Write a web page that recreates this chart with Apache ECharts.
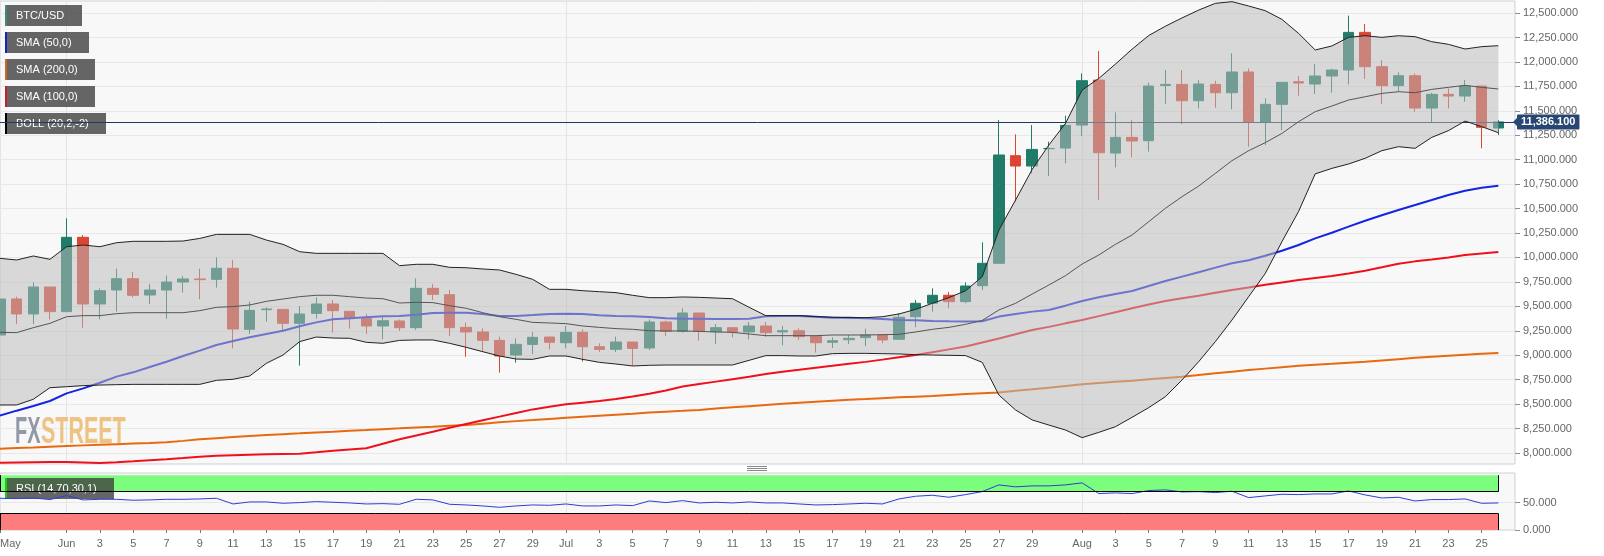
<!DOCTYPE html>
<html>
<head>
<meta charset="utf-8">
<style>html,body{margin:0;padding:0;background:#fff}#main{width:1604px;height:556px}</style>
<script src="https://cdn.jsdelivr.net/npm/echarts@6/dist/echarts.min.js"></script>
</head>
<body>
<div id="main"></div>
<script>
var dayLabels = ['May','','','','Jun','','3','','5','','7','','9','','11','','13','','15','','17','','19','','21','','23','','25','','27','','29','','Jul','','3','','5','','7','','9','','11','','13','','15','','17','','19','','21','','23','','25','','27','','29','','','Aug','','3','','5','','7','','9','','11','','13','','15','','17','','19','','21','','23','','25','',''];
var priceTicks = [8000,8250,8500,8750,9000,9250,9500,9750,10000,10250,10500,10750,11000,11250,11500,11750,12000,12250,12500];
var rsiTicks = [0,50];
var lastPrice = 11386.1;

// open, close, low, high
var candles = [
[9207,9575,9122,9616],[9575,9422,9319,9599],[9422,9698,9319,9745],[9698,9446,9367,9698],[9446,10206,9446,10400],
[10206,9524,9282,10230],[9524,9660,9367,9684],[9667,9783,9446,9885],[9783,9613,9592,9851],[9616,9667,9524,9728],
[9667,9749,9374,9814],[9749,9780,9640,9810],[9780,9773,9572,9885],[9776,9889,9691,10001],[9889,9268,9070,9974],
[9265,9459,9217,9548],[9466,9473,9343,9490],[9469,9326,9241,9469],[9326,9422,8893,9503],[9428,9524,9374,9592],
[9524,9456,9231,9565],[9449,9374,9272,9449],[9374,9299,9217,9422],[9299,9353,9163,9394],[9350,9282,9250,9365],
[9282,9684,9258,9786],[9684,9623,9565,9728],[9619,9282,9197,9667],[9285,9238,8985,9333],[9238,9152,9033,9275],
[9152,8992,8822,9190],[9002,9111,8924,9173],[9111,9183,9013,9238],[9186,9132,9060,9190],[9128,9234,9070,9299],
[9234,9087,8934,9265],[9087,9060,9033,9122],[9060,9135,9033,9190],[9135,9070,8890,9135],[9074,9340,9053,9367],
[9340,9244,9197,9353],[9244,9432,9231,9480],[9432,9244,9149,9432],[9241,9282,9115,9319],[9282,9238,9183,9282],
[9238,9299,9163,9340],[9299,9231,9190,9340],[9238,9251,9101,9299],[9251,9190,9156,9275],[9193,9128,9026,9207],
[9132,9149,9074,9183],[9159,9173,9115,9207],[9180,9207,9094,9272],[9207,9156,9122,9217],[9163,9388,9156,9428],
[9394,9531,9285,9565],[9531,9613,9446,9684],[9613,9548,9480,9647],[9548,9708,9531,9745],[9711,9940,9667,10155],
[9940,11048,9940,11406],[11041,10935,10570,11259],[10935,11105,10860,11354],[11112,11115,10833,11184],[11119,11351,10962,11450],
[11354,11808,11242,11883],[11814,11071,10587,12111],[11068,11228,10921,11484],[11228,11191,11024,11405],[11194,11753,11082,11787],
[11760,11770,11572,11917],[11770,11603,11364,11917],[11603,11774,11525,11814],[11770,11685,11531,11808],[11685,11897,11515,12088],
[11897,11382,11133,11934],[11382,11566,11150,11627],[11566,11791,11303,11791],[11798,11784,11655,11856],[11774,11856,11672,11978],
[11856,11917,11685,11930],[11917,12302,11771,12473],[12302,11951,11825,12388],[11951,11757,11569,12019],[11757,11859,11695,11893],
[11859,11528,11491,11883],[11528,11668,11378,11685],[11668,11651,11525,11729],[11651,11753,11593,11815],[11753,11331,11116,11753],
[11324,11386.1,11252,11406]
];

var sma50 = [8382,8433,8481,8532,8610,8661,8719,8781,8825,8880,8934,8992,9047,9105,9146,9183,9217,9251,9296,9336,9367,9377,9388,9398,9401,9415,9432,9435,9435,9422,9401,9401,9411,9422,9425,9422,9408,9401,9398,9391,9377,9374,9374,9370,9370,9374,9398,9401,9401,9394,9384,9384,9377,9370,9360,9357,9350,9347,9345,9348,9395,9422,9446,9463,9507,9555,9592,9626,9657,9708,9759,9804,9848,9896,9940,9972,10018,10069,10127,10195,10253,10315,10376,10431,10485,10536,10587,10639,10683,10714,10734];
var sma100 = [7901,7903,7905,7907,7908,7903,7898,7906,7915,7925,7935,7948,7962,7972,7978,7983,7987,7990,7993,8008,8024,8036,8048,8094,8140,8180,8218,8258,8297,8335,8372,8410,8446,8472,8498,8515,8532,8553,8578,8605,8640,8680,8705,8730,8755,8780,8807,8830,8851,8873,8892,8912,8932,8955,8980,9002,9030,9060,9090,9130,9172,9215,9258,9290,9326,9360,9400,9440,9480,9518,9555,9583,9609,9638,9667,9692,9720,9745,9769,9790,9811,9835,9865,9900,9936,9960,9978,10000,10024,10041,10056];
var sma200 = [8044,8050,8056,8064,8072,8078,8084,8090,8096,8102,8110,8124,8140,8152,8164,8174,8184,8193,8201,8210,8218,8227,8235,8244,8252,8261,8269,8278,8286,8300,8314,8326,8337,8349,8361,8372,8382,8392,8402,8413,8423,8431,8440,8454,8467,8479,8491,8503,8515,8525,8535,8544,8552,8561,8569,8576,8583,8593,8603,8612,8620,8636,8651,8668,8685,8702,8715,8728,8740,8754,8768,8781,8798,8815,8832,8848,8863,8878,8892,8902,8912,8923,8934,8947,8960,8973,8985,8995,9005,9014,9023];
var bollUpper = [9991,9974,10015,9981,10110,10127,10110,10151,10165,10165,10165,10168,10195,10236,10236,10236,10178,10134,10059,10042,10042,10042,10042,10042,9916,9930,9930,9899,9895,9882,9872,9827,9776,9674,9674,9660,9650,9640,9613,9589,9589,9596,9592,9585,9578,9490,9405,9405,9405,9394,9388,9384,9384,9394,9422,9469,9531,9589,9660,9803,10280,10587,10901,11150,11371,11712,11831,11978,12130,12270,12365,12450,12530,12599,12616,12572,12524,12435,12292,12122,12163,12251,12268,12251,12268,12258,12207,12180,12132,12156,12166];
var bollMiddle = [9234,9231,9282,9326,9394,9405,9405,9425,9435,9435,9435,9435,9456,9490,9497,9514,9551,9575,9599,9613,9613,9599,9585,9578,9534,9541,9538,9507,9480,9435,9394,9367,9336,9330,9323,9299,9285,9272,9265,9251,9248,9248,9244,9238,9234,9217,9200,9200,9200,9200,9207,9207,9207,9210,9214,9238,9265,9285,9316,9356,9463,9531,9626,9718,9814,9933,10025,10134,10230,10366,10502,10622,10730,10860,10990,11092,11174,11269,11389,11491,11549,11610,11644,11678,11695,11685,11719,11740,11760,11740,11723];
var bollLower = [8491,8491,8549,8668,8678,8689,8695,8699,8702,8702,8702,8702,8702,8743,8754,8788,8917,9002,9139,9186,9176,9173,9132,9122,9152,9156,9156,9122,9081,9036,8992,8961,8958,8992,8992,8958,8927,8910,8890,8897,8900,8900,8900,8900,8900,8948,8996,8996,8992,8992,9016,9019,9019,9016,9013,9006,9002,8999,8996,8927,8593,8440,8338,8286,8235,8157,8211,8269,8365,8464,8576,8747,8934,9139,9360,9598,9837,10161,10470,10855,10911,10956,11014,11092,11133,11116,11228,11297,11395,11338,11276];
var rsi = [57.9,57.3,58.5,55.5,62.8,54.9,56,56,54.3,54.9,56,56,56.7,57.9,47.5,51.2,51.2,48.8,50,51.8,50.6,49.4,47.5,48.1,46.9,56.1,54.9,46.9,45.7,43.9,41.4,43.9,45.7,45.1,47.5,43.9,43.9,45.7,44.5,53,50,53.6,49.4,50.6,49.4,51.2,49.4,49.4,47.5,45.7,46.3,47.5,48.8,47.5,56.7,61.6,63.4,59.8,64.6,70.1,82.3,78.7,80.5,80.5,82.3,86,66.5,67.7,66.5,72,73.2,69.5,70,68.3,70.7,59.1,62.2,65.2,64.6,65.8,65.8,71.3,64,58.5,59.7,53,55.5,55.5,56.7,48.7,49.4];

var font = '"Liberation Sans", Arial, sans-serif';
var gridColor = '#e8e8ea';
var frameColor = '#ccd0d8';
var keepLabeled = function (index, value) { return value !== ''; };
var monthStart = function (index, value) { return value === 'Jun' || value === 'Jul' || value === 'Aug'; };

function money(v) {
    return v.toLocaleString('en-US', { minimumFractionDigits: 3, maximumFractionDigits: 3 });
}

var chart = echarts.init(document.getElementById('main'));

function lineSeries(name, data, color, z) {
    return {
        name: name, type: 'line', data: data, z: z, showSymbol: false, silent: true,
        lineStyle: { color: color, width: 2 }
    };
}

chart.setOption({
    animation: false,
    backgroundColor: '#fff',
    textStyle: { fontFamily: font },
    grid: [
        { left: 0, width: 1515, top: 1, height: 463, outerBoundsMode: 'none', show: true, backgroundColor: '#f8f8f8', borderColor: frameColor, borderWidth: 1 },
        { left: 0, width: 1515, top: 473, height: 57, outerBoundsMode: 'none', show: true, backgroundColor: '#f8f8f8', borderColor: frameColor, borderWidth: 1 }
    ],
    xAxis: [
        {
            type: 'category', gridIndex: 0, data: dayLabels, boundaryGap: false,
            axisLine: { show: false }, axisTick: { show: false }, axisLabel: { show: false },
            splitLine: { show: true, interval: monthStart, lineStyle: { color: '#e4e4e6' } }
        },
        {
            type: 'category', gridIndex: 1, data: dayLabels, boundaryGap: false,
            axisLine: { show: false },
            axisTick: { show: true, interval: keepLabeled, length: 3, lineStyle: { color: '#777' } },
            axisLabel: { interval: keepLabeled, color: '#666', fontSize: 11, margin: 8, alignMinLabel: 'left' },
            splitLine: { show: true, interval: monthStart, lineStyle: { color: '#e4e4e6' } }
        }
    ],
    yAxis: [
        {
            type: 'value', gridIndex: 0, position: 'right', min: 7887.5, max: 12623, scale: true,
            axisLine: { show: false },
            axisTick: { show: true, length: 5, lineStyle: { color: '#8a8f99' }, customValues: priceTicks },
            axisLabel: { color: '#666', fontSize: 11, margin: 8, formatter: money, customValues: priceTicks },
            splitLine: { show: true, lineStyle: { color: gridColor } }
        },
        {
            type: 'value', gridIndex: 1, position: 'right', min: 0, max: 104,
            axisLine: { show: false },
            axisTick: { show: true, length: 5, lineStyle: { color: '#8a8f99' }, customValues: rsiTicks },
            axisLabel: { color: '#666', fontSize: 11, margin: 8, formatter: money, customValues: rsiTicks },
            splitLine: { show: true, lineStyle: { color: gridColor } }
        }
    ],
    series: [
        {
            name: 'BTC/USD', type: 'candlestick', data: candles, barWidth: 11, z: 2, silent: true,
            itemStyle: { color: '#207c68', color0: '#dc4433', borderColor: '#207c68', borderColor0: '#dc4433', borderWidth: 1 },
            markLine: {
                silent: true, symbol: 'none', z: 4, animation: false,
                lineStyle: { color: '#24375f', type: 'solid', width: 1 },
                label: {
                    show: true, position: 'end', distance: 2, formatter: money(lastPrice),
                    backgroundColor: '#274672', color: '#fff', fontWeight: 'bold', fontSize: 11, fontFamily: font,
                    padding: [2, 4], borderRadius: 1
                },
                data: [{ yAxis: lastPrice }]
            }
        },
        lineSeries('SMA (200,0)', sma200, '#e8690f', 3),
        lineSeries('SMA (100,0)', sma100, '#f0101a', 3),
        lineSeries('SMA (50,0)', sma50, '#1424e0', 3),
        {
            name: 'BOLL lower', type: 'line', data: bollLower, stack: 'boll', z: 7, showSymbol: false, silent: true,
            lineStyle: { color: '#222', width: 1 }
        },
        {
            name: 'BOLL band', type: 'line', data: bollUpper.map(function (v, i) { return v - bollLower[i]; }), stack: 'boll', z: 6,
            showSymbol: false, silent: true,
            lineStyle: { color: '#222', width: 1 },
            areaStyle: { color: 'rgba(187,187,187,0.53)', opacity: 1 }
        },
        {
            name: 'BOLL middle', type: 'line', data: bollMiddle, z: 7, showSymbol: false, silent: true,
            lineStyle: { color: '#555', width: 1 }
        },
        {
            name: 'RSI (14,70,30,1)', type: 'line', data: rsi, xAxisIndex: 1, yAxisIndex: 1, z: 3, showSymbol: false, silent: true,
            lineStyle: { color: '#2b3fd6', width: 1 },
            markArea: {
                silent: true, z: 1,
                data: [
                    [{ coord: [0, 70], itemStyle: { color: '#7dfd7d' } }, { coord: [90, 100] }],
                    [{ coord: [0, 0], itemStyle: { color: '#fd7d7d' } }, { coord: [90, 30] }]
                ]
            },
            markLine: {
                silent: true, symbol: 'none', z: 5, animation: false,
                lineStyle: { color: '#000', type: 'solid', width: 1 },
                label: { show: false },
                data: [
                    [{ coord: [0, 70] }, { coord: [90, 70] }],
                    [{ coord: [90, 70] }, { coord: [90, 100] }],
                    [{ coord: [0, 70] }, { coord: [0, 100] }],
                    [{ coord: [0, 30] }, { coord: [90, 30] }],
                    [{ coord: [90, 0] }, { coord: [90, 30] }],
                    [{ coord: [0, 0] }, { coord: [0, 30] }]
                ]
            }
        }
    ]
});

// legend chips, watermark and pane divider sit in pixel space like the original
function chip(y, width, color, label) {
    return [
        { type: 'rect', z: 2, shape: { x: 5, y: y, width: width, height: 21 }, style: { fill: 'rgba(64,64,64,0.8)' } },
        { type: 'rect', z: 2, shape: { x: 5, y: y, width: 2, height: 21 }, style: { fill: color } },
        { type: 'text', z: 2, x: 16, y: y + 11, style: { text: label, fill: '#fff', font: '11px ' + font, textVerticalAlign: 'middle' } }
    ];
}

var priceY = chart.convertToPixel({ yAxisIndex: 0 }, lastPrice);

chart.setOption({
    graphic: [].concat(
        chip(5, 77, '#3f8a78', 'BTC/USD'),
        chip(32, 84, '#1424c0', 'SMA (50,0)'),
        chip(59, 90, '#c8691f', 'SMA (200,0)'),
        chip(86, 90, '#c8202a', 'SMA (100,0)'),
        chip(113, 101, '#000', 'BOLL (20,2,-2)'),
        chip(478, 109, '#0fcf0f', 'RSI (14,70,30,1)'),
        [
            { type: 'text', z: 1, x: 15, y: 433, scaleX: 0.54, style: { text: 'FX', fill: '#9198a6', font: 'bold 37px "Liberation Sans Narrow", ' + font, textVerticalAlign: 'middle' } },
            { type: 'text', z: 1, x: 41, y: 433, scaleX: 0.58, style: { text: 'STREET', fill: '#eec283', font: 'bold 37px "Liberation Sans Narrow", ' + font, textVerticalAlign: 'middle' } },
            { type: 'line', shape: { x1: 747, y1: 466.5, x2: 767, y2: 466.5 }, style: { stroke: '#888', lineWidth: 1 } },
            { type: 'line', shape: { x1: 747, y1: 468.5, x2: 767, y2: 468.5 }, style: { stroke: '#888', lineWidth: 1 } },
            { type: 'line', shape: { x1: 747, y1: 470.5, x2: 767, y2: 470.5 }, style: { stroke: '#888', lineWidth: 1 } },
            { type: 'polygon', z: 6, shape: { points: [[1513, priceY], [1518, priceY - 5], [1518, priceY + 5]] }, style: { fill: '#274672' } }
        ]
    )
});
</script>
</body>
</html>
